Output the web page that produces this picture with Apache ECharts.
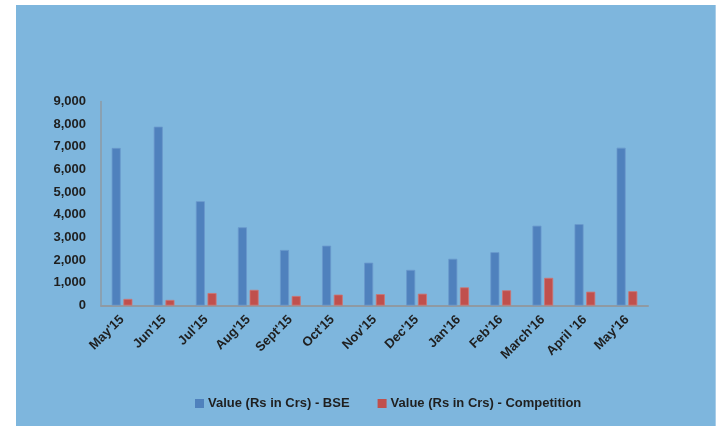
<!DOCTYPE html>
<html>
<head>
<meta charset="utf-8">
<script src="https://cdn.jsdelivr.net/npm/echarts@6/dist/echarts.min.js"></script>
<style>
html,body{margin:0;padding:0;background:#ffffff;}
#bg{position:absolute;left:16px;top:5px;width:699px;height:421px;background:#7EB6DD;border-right:1px solid #a9cde8;}
#chart{position:absolute;left:0;top:0;width:718px;height:426px;}
</style>
</head>
<body>
<div id="bg"></div>
<div id="chart"></div>
<script>
const categories = ["May'15","Jun'15","Jul'15","Aug'15","Sept'15","Oct'15","Nov'15","Dec'15","Jan'16","Feb'16","March'16","April '16","May'16"];
const bseValues = [6950, 7890, 4600, 3450, 2450, 2640, 1890, 1570, 2060, 2350, 3520, 3590, 6960];
const competitionValues = [290, 245, 550, 690, 420, 480, 500, 520, 800, 670, 1220, 610, 630];
const seriesNames = ["Value (Rs in Crs) - BSE", "Value (Rs in Crs) - Competition"];

const chart = echarts.init(document.getElementById('chart'));
const fontFamily = "'Liberation Sans', Arial, sans-serif";
chart.setOption({
  backgroundColor: 'transparent',
  animation: false,
  textStyle: { fontFamily: fontFamily },
  grid: { left: 101, right: 70, top: 101.5, bottom: 120.5, containLabel: false },
  legend: {
    left: 190, top: 392,
    itemWidth: 9, itemHeight: 9, itemGap: 28,
    icon: 'rect',
    itemStyle: { borderWidth: 0 },
    textStyle: { color: '#1f1f1f', fontWeight: 'bold', fontSize: 13, fontFamily: fontFamily, padding: [0,0,0,-1] },
    data: seriesNames
  },
  xAxis: {
    type: 'category',
    data: categories,
    axisLine: { show: true, lineStyle: { color: '#8f9aa3', width: 2 } },
    axisTick: { show: false },
    axisLabel: { interval: 0, rotate: 45, color: '#1f1f1f', fontWeight: 'bold', fontSize: 13, margin: 12, fontFamily: fontFamily }
  },
  yAxis: {
    type: 'value',
    min: 0, max: 9000, interval: 1000,
    axisLine: { show: true, lineStyle: { color: '#8f9aa3', width: 1.5 } },
    axisTick: { show: false },
    splitLine: { show: false },
    axisLabel: {
      color: '#1f1f1f', fontWeight: 'bold', fontSize: 13, margin: 15, fontFamily: fontFamily,
      formatter: v => v.toLocaleString('en-US')
    }
  },
  series: [
    {
      name: seriesNames[0], type: 'bar', data: bseValues,
      barWidth: 9, barGap: '30%',
      itemStyle: { color: '#4F81BD', borderColor: '#6a98cc', borderWidth: 0.8 }
    },
    {
      name: seriesNames[1], type: 'bar', data: competitionValues,
      barWidth: 9, barGap: '30%',
      itemStyle: { color: '#C0504D', borderColor: '#d07471', borderWidth: 0.8 }
    }
  ]
});
</script>
</body>
</html>
